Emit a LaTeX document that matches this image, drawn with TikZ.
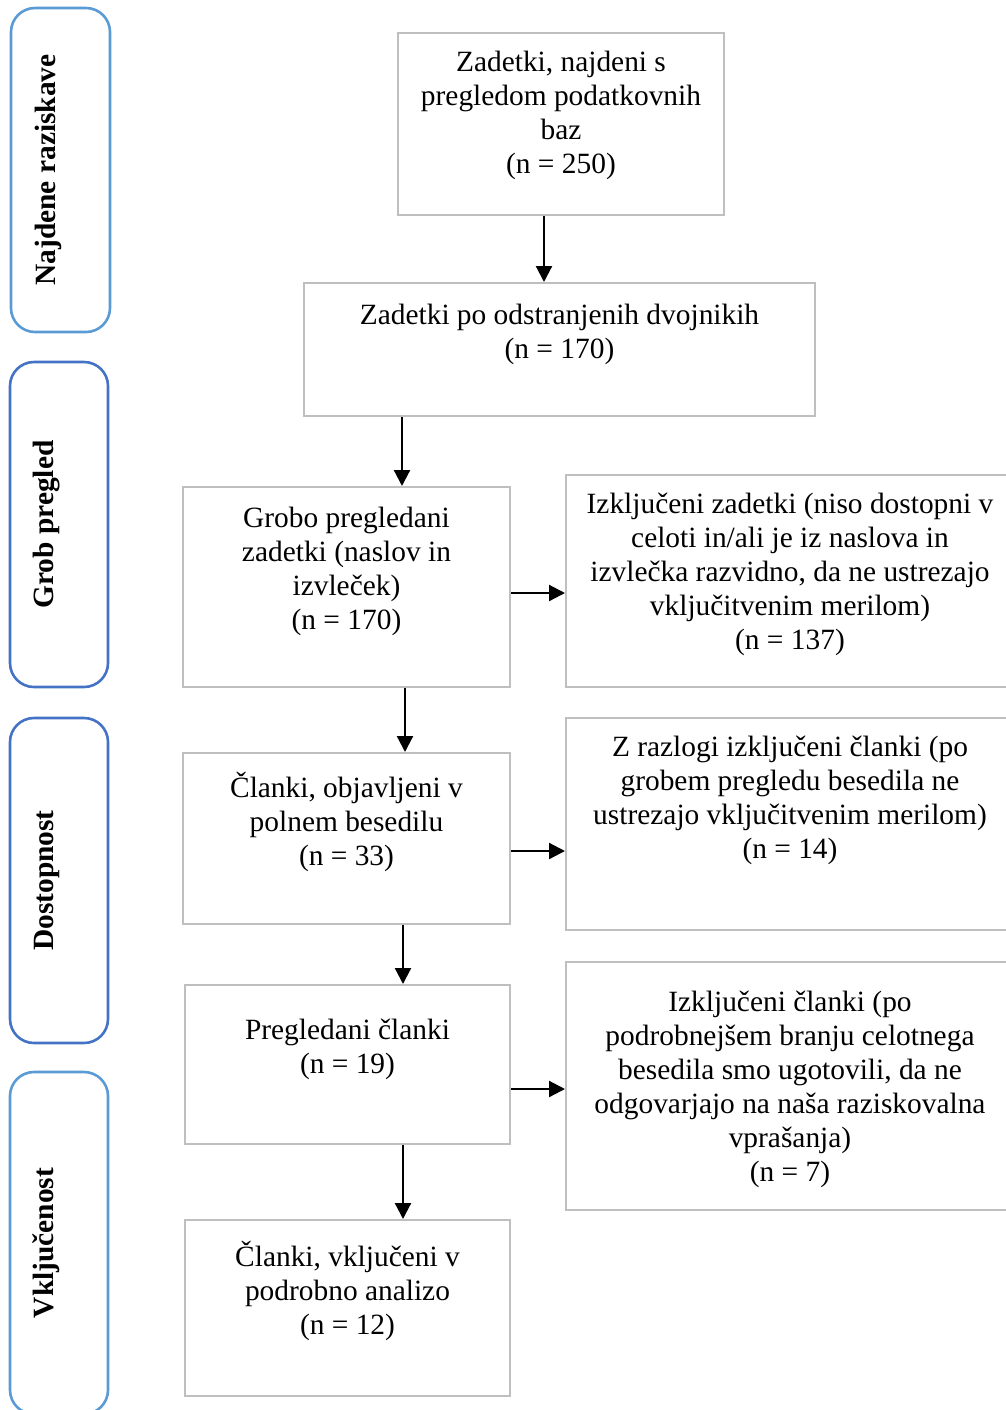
\documentclass[tikz,border=0pt]{standalone}
\usepackage{fontspec}
\setmainfont{Liberation Serif}
\usetikzlibrary{arrows.meta}
\definecolor{boxgray}{RGB}{191,191,191}
\definecolor{phaselight}{RGB}{91,155,213}
\definecolor{phasedark}{RGB}{68,114,196}
% width, height, baseline of first line, text
\newcommand{\boxtext}[4]{\parbox[c][#2][t]{#1}{\centering\vspace*{\dimexpr#3-11.9pt\relax}\strut#4}}
\begin{document}
\begin{tikzpicture}[x=1pt,y=-1pt,
	box/.style={draw=boxgray,line width=1pt,inner sep=0pt,font=\fontsize{14.7}{17}\selectfont},
	phase/.style={draw=#1,line width=1.3pt,rounded corners=12pt,rotate=90,inner sep=0pt,
		font=\fontsize{14.7}{17}\selectfont\bfseries,text height=2pt,text depth=7.5pt},
	arr/.style={line width=1.1pt,-{Triangle[length=8pt,width=8pt]}}]
	\useasboundingbox (0,0) rectangle (503,705);
	% phases
	\node[phase=phaselight,minimum width=162pt,minimum height=49.5pt,name=P1] at (30.25,85) {Najdene raziskave};
	\node[phase=phasedark,minimum width=162.5pt,minimum height=49pt,name=P2] at (29.5,262.25) {Grob pregled};
	\node[phase=phasedark,minimum width=162.5pt,minimum height=49pt,name=P3] at (29.5,440.25) {Dostopnost};
	\node[phase=phaselight,minimum width=171pt,minimum height=49pt,name=P4] at (29.5,621.5) {Vključenost};
	% main column
	\node[box,name=A] at (280.5,62) {\boxtext{163pt}{91pt}{19pt}{Zadetki, najdeni s\\pregledom podatkovnih\\baz\\(n = 250)}};
	\node[box,name=B] at (279.75,174.75) {\boxtext{255.5pt}{66.5pt}{20.5pt}{Zadetki po odstranjenih dvojnikih\\(n = 170)}};
	\node[box,name=C] at (173.25,293.5) {\boxtext{163.5pt}{100pt}{20pt}{Grobo pregledani\\zadetki (naslov in\\izvleček)\\(n = 170)}};
	\node[box,name=E] at (173.25,419.25) {\boxtext{163.5pt}{85.5pt}{21.5pt}{Članki, objavljeni v\\polnem besedilu\\(n = 33)}};
	\node[box,name=G] at (173.75,532.25) {\boxtext{162.5pt}{79.5pt}{27pt}{Pregledani članki\\(n = 19)}};
	\node[box,name=I] at (173.75,654) {\boxtext{162.5pt}{88pt}{22.5pt}{Članki, vključeni v\\podrobno analizo\\(n = 12)}};
	% excluded
	\node[box,name=D] at (395,290.5) {\boxtext{224pt}{106pt}{19pt}{Izključeni zadetki (niso dostopni v\\celoti in/ali je iz naslova in\\izvlečka razvidno, da ne ustrezajo\\vključitvenim merilom)\\(n = 137)}};
	\node[box,name=F] at (395,412) {\boxtext{224pt}{106pt}{19pt}{Z razlogi izključeni članki (po\\grobem pregledu besedila ne\\ustrezajo vključitvenim merilom)\\(n = 14)}};
	\node[box,name=H] at (395,543) {\boxtext{224pt}{124pt}{24.5pt}{Izključeni članki (po\\podrobnejšem branju celotnega\\besedila smo ugotovili, da ne\\odgovarjajo na naša raziskovalna\\vprašanja)\\(n = 7)}};
	% arrows
	\draw[arr] ([xshift=-8.5pt]A.south) -- ([xshift=-7.75pt]B.north);
	\draw[arr] ([xshift=-78.75pt]B.south) -- ([xshift=27.75pt]C.north);
	\draw[arr] ([xshift=29.25pt]C.south) -- ([xshift=29.25pt]E.north);
	\draw[arr] ([xshift=28.25pt]E.south) -- ([xshift=27.75pt]G.north);
	\draw[arr] ([xshift=27.75pt]G.south) -- ([xshift=27.75pt]I.north);
	\draw[arr] ([yshift=-3pt]C.east) -- ([yshift=-6pt]D.west);
	\draw[arr] ([yshift=-6.25pt]E.east) -- ([yshift=-13.5pt]F.west);
	\draw[arr] ([yshift=-12.25pt]G.east) -- ([yshift=-1.5pt]H.west);
\end{tikzpicture}
\end{document}
